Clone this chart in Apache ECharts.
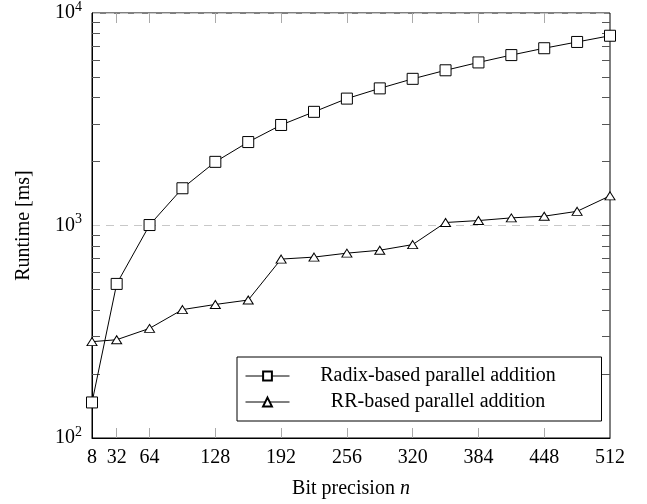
<!DOCTYPE html>
<html>
<head>
<meta charset="utf-8">
<script src="https://cdn.jsdelivr.net/npm/echarts@6/dist/echarts.min.js"></script>
<style>
  html, body { margin: 0; padding: 0; background: #fff; }
  #main { width: 647px; height: 504px; }
</style>
</head>
<body>
<div id="main"></div>
<script>
// bit precision n
var bits = [8, 32, 64, 96, 128, 160, 192, 224, 256, 288, 320, 352, 384, 416, 448, 480, 512];
// runtime in ms
var radixData = [147, 531, 1005, 1497, 1993, 2470, 2972, 3427, 3955, 4418, 4900, 5375, 5853, 6338, 6827, 7306, 7816];
var rrData = [284, 290, 328, 402, 425, 446, 695, 710, 741, 765, 813, 1033, 1055, 1086, 1106, 1166, 1379];

var xLabels = [8, 32, 64, 128, 192, 256, 320, 384, 448, 512];
var xTicks = [32, 64, 128, 192, 256, 320, 384, 448];
var yLabels = [100, 1000, 10000];
var yMinorTicks = [200, 300, 400, 500, 600, 700, 800, 900, 2000, 3000, 4000, 5000, 6000, 7000, 8000, 9000];

var serif = '"Liberation Serif", "Times New Roman", serif';

function pairs(ys) {
  var out = [];
  for (var i = 0; i < bits.length; i++) {
    out.push([bits[i], ys[i]]);
  }
  return out;
}

var chart = echarts.init(document.getElementById('main'), null, { renderer: 'canvas' });

var option = {
  backgroundColor: '#fff',
  animation: false,
  textStyle: { fontFamily: serif },
  grid: {
    left: 92, right: 37, top: 13, bottom: 61,
    show: true, borderColor: '#000', borderWidth: 1, backgroundColor: 'transparent'
  },
  legend: {
    orient: 'vertical',
    left: 237,
    top: 357,
    itemWidth: 44,
    itemHeight: 11,
    itemGap: 6,
    padding: [9, 20, 9, 8],
    borderColor: '#000',
    borderWidth: 1,
    backgroundColor: '#fff',
    lineStyle: { width: 1 },
    data: ['Radix-based parallel addition', 'RR-based parallel addition'],
    formatter: function (name) {
      return '{a|' + name + '}';
    },
    textStyle: {
      rich: {
        a: { width: 287, lineHeight: 24, align: 'center', fontSize: 20, fontFamily: serif, color: '#000' }
      }
    }
  },
  xAxis: [{
    type: 'value',
    min: 8,
    max: 512,
    name: 'Bit precision {i|n}',
    nameLocation: 'middle',
    nameGap: 41,
    nameTextStyle: {
      fontSize: 20, fontFamily: serif, color: '#000',
      rich: { i: { fontStyle: 'italic', fontSize: 20, fontFamily: serif, color: '#000' } }
    },
    axisLine: { show: true, lineStyle: { color: '#000', width: 1 } },
    axisTick: { show: true, inside: true, length: 10, customValues: xTicks, lineStyle: { color: '#aaa' } },
    axisLabel: { customValues: xLabels, fontSize: 20, fontFamily: serif, color: '#000', margin: 10 },
    splitLine: { show: false }
  }, {
    type: 'value',
    position: 'top',
    min: 8,
    max: 512,
    axisLine: { show: false },
    axisTick: { show: true, inside: true, length: 10, customValues: xTicks, lineStyle: { color: '#aaa' } },
    axisLabel: { show: false },
    splitLine: { show: false }
  }],
  yAxis: [{
    type: 'log',
    min: 100,
    max: 10000,
    name: 'Runtime [ms]',
    nameLocation: 'middle',
    nameGap: 58,
    nameTextStyle: { fontSize: 20, fontFamily: serif, color: '#000' },
    axisLine: { show: true, lineStyle: { color: '#000', width: 1 } },
    axisTick: { show: false },
    axisLabel: {
      customValues: yLabels,
      margin: 10,
      formatter: function (v) {
        return '{b|10}{s|' + Math.round(Math.log10(v)) + '}';
      },
      rich: {
        b: { fontSize: 20, fontFamily: serif, color: '#000' },
        s: { fontSize: 14, fontFamily: serif, color: '#000', verticalAlign: 'top', padding: [0, 0, 12, 0] }
      }
    },
    splitLine: { show: true, lineStyle: { color: '#c8c8c8', type: [8, 6], width: 1 } }
  }, {
    type: 'log',
    min: 100,
    max: 10000,
    position: 'left',
    axisLine: { show: false },
    axisTick: { show: true, inside: true, length: 8, customValues: yMinorTicks, lineStyle: { color: '#555' } },
    axisLabel: { show: false },
    splitLine: { show: false }
  }, {
    type: 'log',
    min: 100,
    max: 10000,
    position: 'right',
    axisLine: { show: false },
    axisTick: { show: true, inside: true, length: 8, customValues: yMinorTicks.concat([1000]), lineStyle: { color: '#555' } },
    axisLabel: { show: false },
    splitLine: { show: false }
  }],
  series: [{
    name: 'Radix-based parallel addition',
    type: 'line',
    data: pairs(radixData),
    symbol: 'rect',
    symbolSize: 11,
    lineStyle: { color: '#000', width: 1 },
    itemStyle: { color: '#fff', borderColor: '#000', borderWidth: 1 },
    z: 3
  }, {
    name: 'RR-based parallel addition',
    type: 'line',
    data: pairs(rrData),
    symbol: 'triangle',
    symbolSize: [10, 8],
    lineStyle: { color: '#000', width: 1 },
    itemStyle: { color: '#fff', borderColor: '#000', borderWidth: 1 },
    z: 3
  }]
};

chart.setOption(option);
</script>
</body>
</html>
